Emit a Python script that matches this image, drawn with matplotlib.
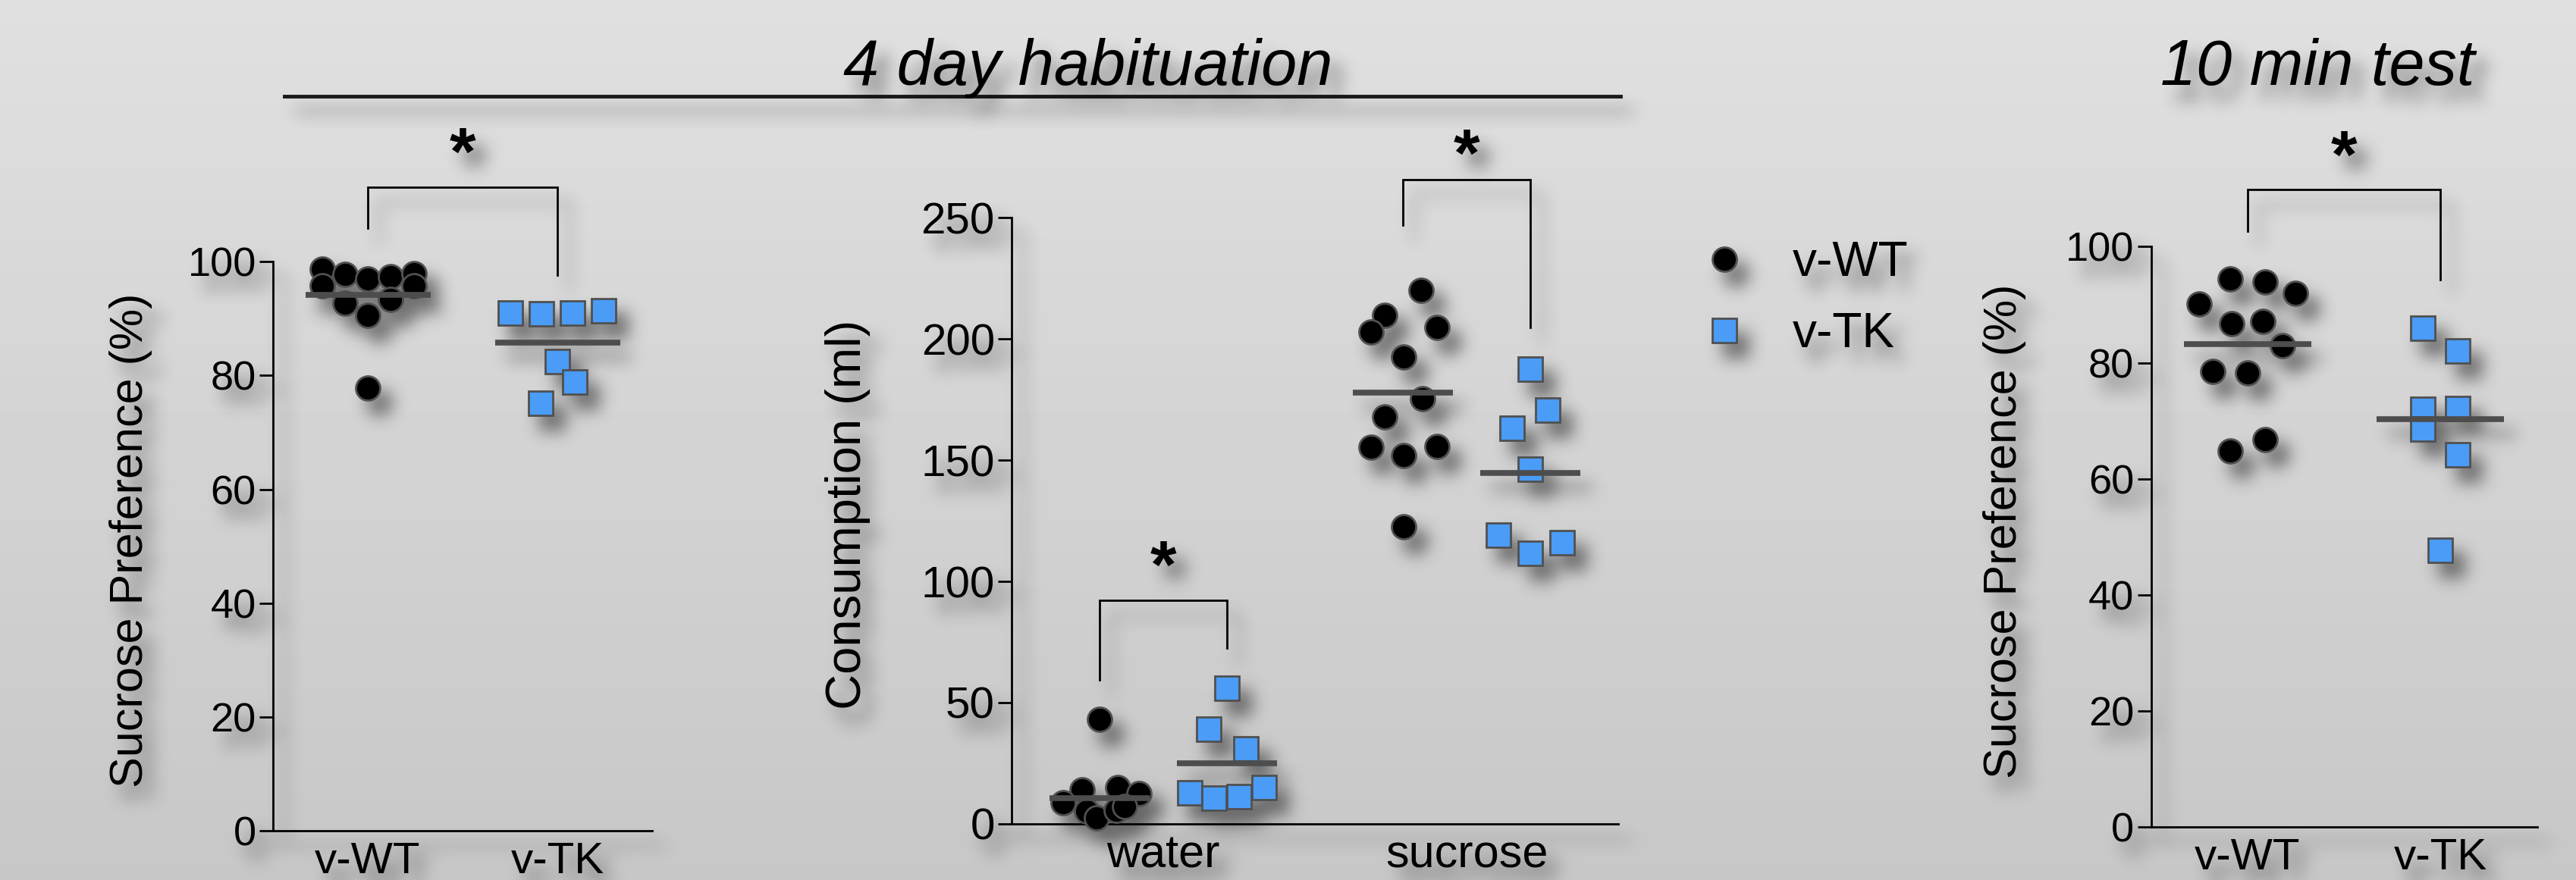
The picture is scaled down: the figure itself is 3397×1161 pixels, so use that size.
import numpy as np
import matplotlib
matplotlib.use('Agg')
import matplotlib.pyplot as plt
from matplotlib.lines import Line2D

plt.rcParams['font.family'] = ['Liberation Sans', 'DejaVu Sans']

# ---- data ----
groups = ['v-WT', 'v-TK']
fluids = ['water', 'sucrose']

# 4 day habituation, sucrose preference (%)
pref4_wt = [98.7, 97.7, 97.0, 97.4, 97.9, 95.8, 95.8, 92.7, 90.6, 93.4, 77.8]
pref4_tk = [91.0, 90.8, 91.0, 91.4, 82.4, 78.8, 75.1]
pref4_mean = [94.1, 85.8]

# 4 day habituation, consumption (ml)
water_wt = [43.0, 14.0, 15.1, 12.4, 8.8, 5.4, 2.5, 5.7, 7.2]
water_tk = [56.0, 38.9, 30.8, 12.7, 10.7, 11.1, 15.1]
sucrose_wt = [220.0, 209.7, 202.8, 204.8, 192.5, 175.4, 167.9, 155.2, 151.8, 155.8, 122.6]
sucrose_tk = [187.5, 170.6, 163.3, 146.4, 119.2, 111.5, 116.1]
cons_mean_wt = [10.6, 178.0]
cons_mean_tk = [24.8, 144.8]

# 10 min test, sucrose preference (%)
pref10_wt = [94.4, 93.9, 91.9, 90.1, 86.7, 87.1, 82.9, 78.5, 78.3, 64.8, 66.8]
pref10_tk = [85.9, 82.1, 72.0, 72.1, 68.6, 64.1, 47.7]
pref10_mean = [83.2, 70.3]

# scatter jitter (x offsets from the group centre)
jit4_wt = [-0.24, -0.12, 0.0, 0.12, 0.245, -0.24, 0.245, -0.12, 0.0, 0.12, 0.0]
jit4_tk = [-0.248, -0.085, 0.078, 0.245, 0.0, 0.09, -0.09]
jit_water_wt = [0.0, -0.057, 0.06, 0.129, -0.121, -0.042, -0.01, 0.054, 0.083]
jit_water_tk = [0.0, -0.061, 0.062, -0.122, -0.043, 0.039, 0.123]
jit_suc_wt = [0.061, -0.059, -0.106, 0.113, 0.003, 0.064, -0.059, -0.106, 0.003, 0.113, 0.003]
jit_suc_tk = [0.0, 0.058, -0.061, 0.0, -0.105, 0.0, 0.106]
jit10_wt = [-0.09, 0.09, 0.25, -0.25, -0.08, 0.08, 0.18, -0.18, 0.0, -0.09, 0.09]
jit10_tk = [-0.09, 0.09, -0.09, 0.09, -0.09, 0.09, 0.0]

# significance brackets: (bar top, left leg end, right leg end, star centre)
sig4 = (113.1, 105.8, 97.6, 120.0)
sig_water = (92.3, 59.5, 72.6, 108.5)
sig_sucrose = (265.7, 247.0, 204.8, 278.4)
sig10 = (109.8, 102.7, 94.3, 116.6)

BLUE = '#4a9cf6'
EDGE = '#505050'
MEAN = '#4d4d4d'


def blur(a, sigma):
    r = int(3 * sigma)
    xs = np.arange(-r, r + 1)
    k = np.exp(-xs ** 2 / (2.0 * sigma ** 2))
    k /= k.sum()
    tmp = np.zeros_like(a)
    for s, w in zip(xs, k):
        tmp += w * np.roll(a, s, axis=0)
    out = np.zeros_like(a)
    for s, w in zip(xs, k):
        out += w * np.roll(tmp, s, axis=1)
    return out


class DropShadow:
    # soft drop shadow drawn under whatever the artist rendered
    def __init__(self, dx=15, dy=19, sigma=11, alpha=0.5):
        self.dx, self.dy, self.sigma, self.alpha = dx, dy, sigma, alpha

    def __call__(self, im, dpi):
        pad = int(3 * self.sigma + max(self.dx, self.dy)) + 2
        src = np.pad(im, ((pad, pad), (pad, pad), (0, 0)))
        sa = src[..., 3]
        sh = blur(sa, self.sigma)
        sh = np.roll(np.roll(sh, self.dy, axis=0), self.dx, axis=1)
        sh = np.clip(sh * self.alpha, 0, 1)
        out_a = sa + sh * (1 - sa)
        out = np.zeros_like(src)
        out[..., :3] = src[..., :3] * (sa / np.maximum(out_a, 1e-6))[..., None]
        out[..., 3] = out_a
        return out, -pad, -pad


def style(ax, ymax, yticks, ylabel, lab_x, tick_fs=39, x_fs=42, lab_fs=44):
    ax.set_facecolor('none')
    ax.set_xlim(-0.5, 1.5)
    ax.set_ylim(0, ymax)
    ax.set_yticks(yticks)
    for s in ['top', 'right']:
        ax.spines[s].set_visible(False)
    for s in ['left', 'bottom']:
        ax.spines[s].set_linewidth(2)
    ax.tick_params(axis='y', labelsize=tick_fs, length=13, width=2, pad=3)
    ax.tick_params(axis='x', labelsize=x_fs, length=0, pad=10)
    ax.set_ylabel(ylabel, fontsize=lab_fs, va='center')
    ax.yaxis.set_label_coords(lab_x, 0.51)
    ax.set_agg_filter(DropShadow())


def dots(ax, centre, vals, jit, marker, face):
    ax.plot([centre + j for j in jit], vals, ls='none', marker=marker, ms=23,
            mfc=face, mec=EDGE, mew=2, zorder=3, clip_on=False)


def mean_bar(ax, centre, m, hw):
    ax.hlines(m, centre - hw, centre + hw, color=MEAN, lw=5.5, zorder=4)


def bracket(ax, x0, x1, sig, fs=64):
    top, lb, rb, star = sig
    ax.plot([x0, x0, x1, x1], [lb, top, top, rb], color='black', lw=2,
            clip_on=False, solid_joinstyle='miter')
    ax.annotate('*', ((x0 + x1) / 2, star), xytext=(0, -0.14 * fs),
                textcoords='offset points', ha='center', va='center',
                fontsize=fs, fontweight='bold', annotation_clip=False)


fig = plt.figure(figsize=(33.98, 11.61), dpi=100)
fig.patch.set_facecolor('#dadada')

bg = fig.add_axes([0, 0, 1, 1], zorder=-5)
bg.imshow(np.linspace(0.878, 0.78, 256)[:, None], cmap='gray', vmin=0, vmax=1,
          aspect='auto', extent=(0, 1, 0, 1))
bg.axis('off')

# panel 1
ax1 = fig.add_axes([0.10595, 0.05556, 0.14715, 0.64729])
style(ax1, 100, [0, 20, 40, 60, 80, 100], 'Sucrose Preference (%)', -0.375)
ax1.set_xticks([0, 1])
ax1.set_xticklabels(groups)
dots(ax1, 0, pref4_wt, jit4_wt, 'o', 'black')
dots(ax1, 1, pref4_tk, jit4_tk, 's', BLUE)
for i, m in enumerate(pref4_mean):
    mean_bar(ax1, i, m, 0.33)
bracket(ax1, 0, 1, sig4)

# panel 2
ax2 = fig.add_axes([0.39258, 0.06391, 0.23543, 0.68863])
style(ax2, 250, [0, 50, 100, 150, 200, 250], 'Consumption (ml)', -0.27,
      tick_fs=42, x_fs=44, lab_fs=47)
ax2.set_xticks([0, 1])
ax2.set_xticklabels(fluids)
off = 0.21
dots(ax2, 0 - off, water_wt, jit_water_wt, 'o', 'black')
dots(ax2, 0 + off, water_tk, jit_water_tk, 's', BLUE)
dots(ax2, 1 - off, sucrose_wt, jit_suc_wt, 'o', 'black')
dots(ax2, 1 + off, sucrose_tk, jit_suc_tk, 's', BLUE)
for i in range(2):
    mean_bar(ax2, i - off, cons_mean_wt[i], 0.165)
    mean_bar(ax2, i + off, cons_mean_tk[i], 0.165)
bracket(ax2, 0 - off, 0 + off, sig_water)
bracket(ax2, 1 - off, 1 + off, sig_sucrose)

# panel 3
ax3 = fig.add_axes([0.83478, 0.06003, 0.14980, 0.65969])
style(ax3, 100, [0, 20, 40, 60, 80, 100], 'Sucrose Preference (%)', -0.38)
ax3.set_xticks([0, 1])
ax3.set_xticklabels(groups)
dots(ax3, 0, pref10_wt, jit10_wt, 'o', 'black')
dots(ax3, 1, pref10_tk, jit10_tk, 's', BLUE)
for i, m in enumerate(pref10_mean):
    mean_bar(ax3, i, m, 0.33)
bracket(ax3, 0, 1, sig10)

# legend
h_wt = Line2D([], [], ls='none', marker='o', ms=23, mfc='black', mec=EDGE, mew=2)
h_tk = Line2D([], [], ls='none', marker='s', ms=23, mfc=BLUE, mec=EDGE, mew=2)
leg = fig.legend([h_wt, h_tk], groups, loc='center left',
                 bbox_to_anchor=(0.6598, 0.6606), frameon=False, fontsize=46,
                 handlelength=1.0, handletextpad=0.9, labelspacing=0.53,
                 borderpad=0, borderaxespad=0)
leg.set_agg_filter(DropShadow())

# titles
t1 = fig.text(1435 / 3398, 0.9038, '4 day habituation', ha='center',
              va='baseline', fontsize=61, style='italic')
t2 = fig.text(3056 / 3398, 0.9038, '10 min test', ha='center',
              va='baseline', fontsize=61, style='italic')
rule = Line2D([375 / 3398, 2137 / 3398], [0.891, 0.891],
              transform=fig.transFigure, color='#1a1a1a', lw=3.5)
fig.add_artist(rule)
for a in (t1, t2, rule):
    a.set_agg_filter(DropShadow())

fig.savefig('out.png', dpi=100)
